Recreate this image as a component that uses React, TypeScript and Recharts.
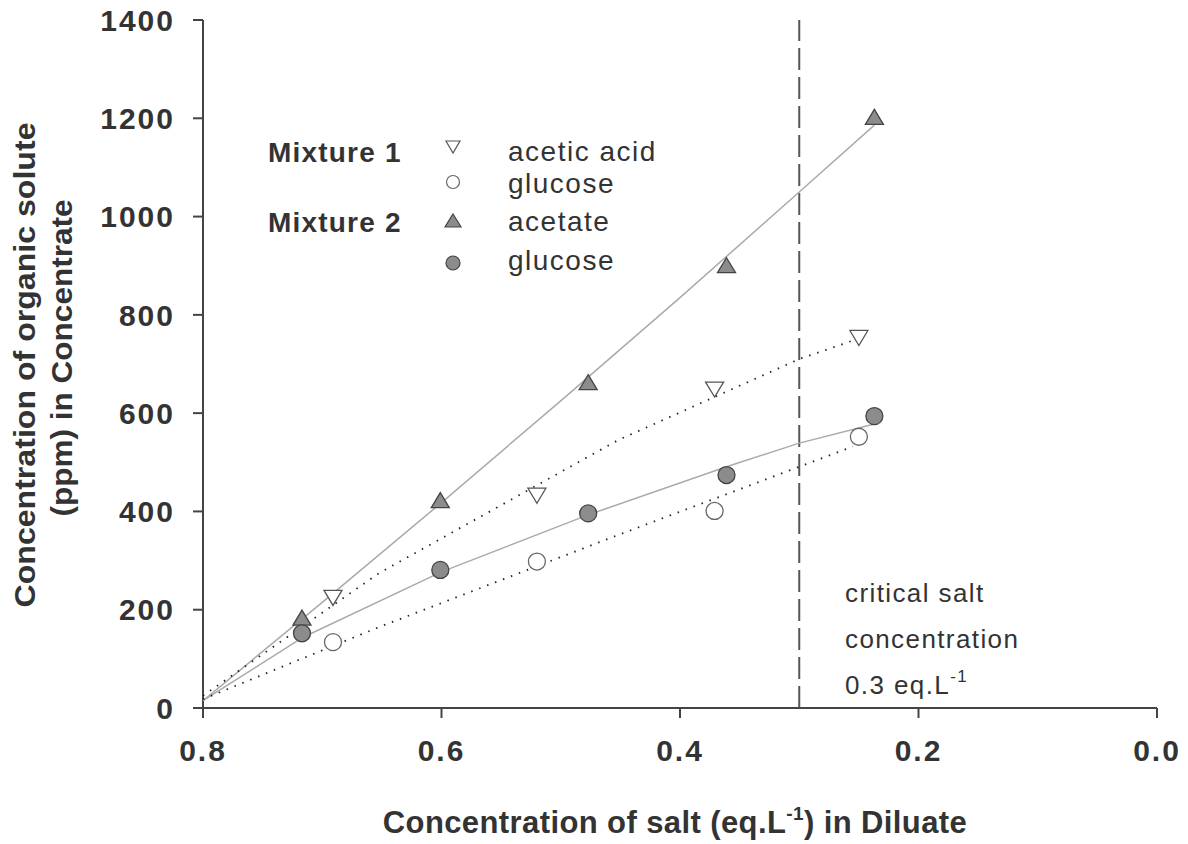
import React from 'react';
import { ScatterChart, Scatter, XAxis, YAxis, ReferenceLine, Customized } from 'recharts';

// measured points
const mix2X = [0.717, 0.601, 0.477, 0.361, 0.237];
const acetate = [183, 422, 662, 900, 1202];
const glucose2 = [152, 281, 396, 474, 594];

const mix1X = [0.691, 0.52, 0.371, 0.25];
const aceticAcid = [225, 433, 649, 754];
const glucose1 = [134, 298, 401, 552];

// fitted curves
const acetateFitX = [0.8, 0.7, 0.6, 0.5, 0.4, 0.3, 0.237];
const acetateFitY = [15, 215, 418, 625, 835, 1050, 1186];
const glucose2FitX = [0.8, 0.716, 0.6, 0.477, 0.361, 0.3, 0.237];
const glucose2FitY = [15, 144, 277, 393, 491, 539, 578];
const aceticFitX = [0.8, 0.652, 0.452, 0.3, 0.25];
const aceticFitY = [25, 275, 545, 710, 752];
const glucose1FitX = [0.8, 0.652, 0.452, 0.3, 0.255];
const glucose1FitY = [18, 165, 352, 491, 532];

const xTicks = [0, 0.2, 0.4, 0.6, 0.8];
const yTicks = [0, 200, 400, 600, 800, 1000, 1200, 1400];
const criticalSalt = 0.3;

const zip = (xs: number[], ys: number[]) => xs.map((x, i) => ({ x, y: ys[i] }));

const FONT = '"Liberation Sans", Arial, sans-serif';
const TEXT = '#333';
const FILL = '#8c8c8c';

const UpTri = (p: any) => (
  <path d={`M${p.cx},${p.cy - 8}L${p.cx + 9},${p.cy + 7}L${p.cx - 9},${p.cy + 7}Z`} fill={FILL} stroke="#444" strokeWidth={1.3} />
);
const DownTri = (p: any) => (
  <path d={`M${p.cx - 9},${p.cy - 7}L${p.cx + 9},${p.cy - 7}L${p.cx},${p.cy + 8}Z`} fill="#fff" stroke="#555" strokeWidth={1.3} />
);
const FullDot = (p: any) => <circle cx={p.cx} cy={p.cy} r={8.5} fill={FILL} stroke="#444" strokeWidth={1.3} />;
const OpenDot = (p: any) => <circle cx={p.cx} cy={p.cy} r={8.5} fill="#fff" stroke="#666" strokeWidth={1.3} />;
const NoDot = () => <g />;

const Notes = () => (
  <g fontFamily={FONT} fill={TEXT}>
    {/* legend */}
    <text x={268} y={162} fontSize={28} fontWeight="bold" letterSpacing={1.2}>Mixture 1</text>
    <text x={268} y={232} fontSize={28} fontWeight="bold" letterSpacing={1.2}>Mixture 2</text>
    <path d="M446,141L460,141L453,153Z" fill="#fff" stroke="#555" strokeWidth={1.2} />
    <circle cx={453} cy={182} r={6.5} fill="#fff" stroke="#666" strokeWidth={1.2} />
    <path d="M453,214L461,227L445,227Z" fill={FILL} stroke="#444" strokeWidth={1.2} />
    <circle cx={453} cy={263} r={7} fill={FILL} stroke="#444" strokeWidth={1.2} />
    <g fontSize={28} letterSpacing={1.5}>
      <text x={508} y={161}>acetic acid</text>
      <text x={508} y={193}>glucose</text>
      <text x={508} y={231}>acetate</text>
      <text x={508} y={270}>glucose</text>
    </g>
    {/* annotation */}
    <g fontSize={26} letterSpacing={1.4}>
      <text x={845} y={602}>critical salt</text>
      <text x={845} y={648}>concentration</text>
      <text x={845} y={694}>
        0.3 eq.L<tspan dy={-12} fontSize={17}>-1</tspan>
      </text>
    </g>
    {/* axis titles */}
    <g fontSize={30} fontWeight="bold">
      <text x={35} y={365} textAnchor="middle" transform="rotate(-90 35 365)" textLength={485} lengthAdjust="spacingAndGlyphs">
        Concentration of organic solute
      </text>
      <text x={72} y={358} textAnchor="middle" transform="rotate(-90 72 358)" textLength={317} lengthAdjust="spacingAndGlyphs">
        (ppm) in Concentrate
      </text>
      <text x={675} y={833} textAnchor="middle" fontSize={31} letterSpacing={0.4}>
        Concentration of salt (eq.L<tspan dy={-13} fontSize={19}>-1</tspan><tspan dy={13}>) in Diluate</tspan>
      </text>
    </g>
  </g>
);

const tickStyle = { fill: TEXT, fontSize: 30, fontWeight: 'bold', fontFamily: FONT, letterSpacing: 2 };

export default function App() {
  return (
    <div style={{ position: 'absolute', left: 0, top: 0, width: 1188, height: 844, background: '#fff' }}>
      <ScatterChart width={1188} height={844} margin={{ top: 20, right: 31, bottom: 0, left: 0 }}>
        <XAxis
          type="number"
          dataKey="x"
          domain={[0, 0.8]}
          ticks={xTicks}
          reversed
          height={136}
          tickSize={10}
          tickMargin={22}
          stroke="#444"
          strokeWidth={2}
          tick={tickStyle}
          tickFormatter={(v: number) => v.toFixed(1)}
          allowDataOverflow
        />
        <YAxis
          type="number"
          dataKey="y"
          domain={[0, 1400]}
          ticks={yTicks}
          width={203}
          tickSize={10}
          tickMargin={18}
          stroke="#444"
          strokeWidth={2}
          tick={tickStyle}
          allowDataOverflow
        />
        <ReferenceLine x={criticalSalt} stroke="#555" strokeWidth={2} strokeDasharray="22 7" />
        <Scatter data={zip(acetateFitX, acetateFitY)} shape={NoDot} line={{ stroke: '#aaa', strokeWidth: 1.5 }} lineType="joint" isAnimationActive={false} />
        <Scatter data={zip(glucose2FitX, glucose2FitY)} shape={NoDot} line={{ stroke: '#aaa', strokeWidth: 1.5 }} lineType="joint" isAnimationActive={false} />
        <Scatter data={zip(aceticFitX, aceticFitY)} shape={NoDot} line={{ stroke: '#222', strokeWidth: 1.8, strokeDasharray: '1.5 7' }} lineType="joint" isAnimationActive={false} />
        <Scatter data={zip(glucose1FitX, glucose1FitY)} shape={NoDot} line={{ stroke: '#222', strokeWidth: 1.8, strokeDasharray: '1.5 7' }} lineType="joint" isAnimationActive={false} />
        <Scatter data={zip(mix1X, aceticAcid)} shape={DownTri} isAnimationActive={false} />
        <Scatter data={zip(mix1X, glucose1)} shape={OpenDot} isAnimationActive={false} />
        <Scatter data={zip(mix2X, acetate)} shape={UpTri} isAnimationActive={false} />
        <Scatter data={zip(mix2X, glucose2)} shape={FullDot} isAnimationActive={false} />
        <Customized component={Notes} />
      </ScatterChart>
    </div>
  );
}
